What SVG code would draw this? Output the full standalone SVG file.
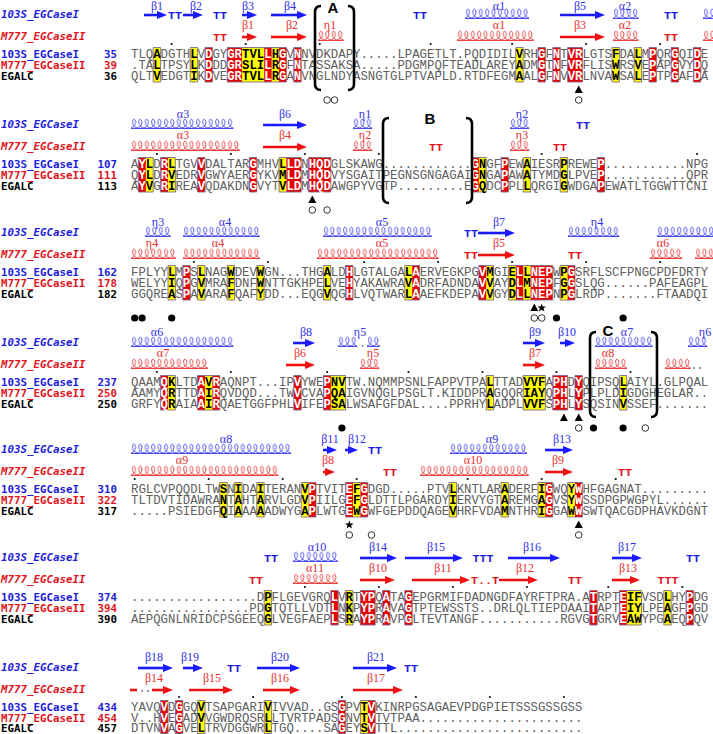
<svg xmlns="http://www.w3.org/2000/svg" xmlns:xlink="http://www.w3.org/1999/xlink" width="713" height="734" viewBox="0 0 713 734">
<style>
.nm{font-family:"DejaVu Sans Mono",monospace;font-size:10.8px;font-weight:bold}
.hd{font-family:"DejaVu Sans Mono",monospace;font-size:10.8px;font-weight:bold;font-style:italic}
.num{text-anchor:end}
.bl{fill:#1c1cdc}.rdt{fill:#e0141c}.bk{fill:#000}
.sq{font-family:"Liberation Mono",monospace;font-size:12.33px;fill:#606060}
.w{fill:#fff;font-weight:bold}.k{fill:#000;font-weight:bold}
.lb{font-family:"Liberation Serif",serif;font-size:12px;text-anchor:middle}
.lbb{fill:#3030e8}.lbr{fill:#e83030}
.tt{font-family:"Liberation Mono",monospace;font-size:11.7px;font-weight:bold;text-anchor:middle}
.ab{stroke:#1a1aff;stroke-width:2.6;fill:none;marker-end:url(#mb)}
.ar{stroke:#ee1111;stroke-width:2.6;fill:none;marker-end:url(#mr)}
.hb{fill:url(#hb)}.hr{fill:url(#hr)}
.y{fill:#ffff00}.rd{fill:#e60000}
.f{fill:none;stroke:#7e6a90;stroke-width:0.9;vector-effect:non-scaling-stroke}
.dt{stroke:#111;stroke-width:2.2;stroke-linecap:round;fill:none}
.br{fill:none;stroke:#000;stroke-width:2.6}
.bt{font-family:"Liberation Sans",sans-serif;font-size:15px;font-weight:bold;text-anchor:middle}
</style>
<defs>
<marker id="mb" markerUnits="userSpaceOnUse" markerWidth="10" markerHeight="8" refX="5" refY="4" orient="auto" viewBox="0 0 10 8"><path d="M0,0L10,4L0,8Z" fill="#1a1aff"/></marker>
<marker id="mr" markerUnits="userSpaceOnUse" markerWidth="10" markerHeight="8" refX="5" refY="4" orient="auto" viewBox="0 0 10 8"><path d="M0,0L10,4L0,8Z" fill="#ee1111"/></marker>
<pattern id="hb" width="6.4" height="11" patternUnits="userSpaceOnUse"><path d="M0,10C2.2,9.6 4.5,7.6 4.5,4.4C4.5,1.9 3.5,1.2 2.9,1.2C2.2,1.2 1.4,1.9 1.5,4.4C1.7,7.6 4,9.6 6.4,10M0,10.5H6.4" fill="none" stroke="#3636f0" stroke-width="0.85"/></pattern>
<pattern id="hr" width="6.4" height="11" patternUnits="userSpaceOnUse"><path d="M0,10C2.2,9.6 4.5,7.6 4.5,4.4C4.5,1.9 3.5,1.2 2.9,1.2C2.2,1.2 1.4,1.9 1.5,4.4C1.7,7.6 4,9.6 6.4,10M0,10.5H6.4" fill="none" stroke="#ea2a2a" stroke-width="0.85"/></pattern>
<path id="tri" d="M0,-4.5L4,3L-4,3Z"/>
<circle id="oc" r="3.3" fill="none" stroke="#333" stroke-width="1"/>
<circle id="fc" r="3.6"/>
<path id="st" d="M0,-4.5L1.1,-1.5L4.3,-1.4L1.8,0.6L2.7,3.6L0,1.8L-2.7,3.6L-1.8,0.6L-4.3,-1.4L-1.1,-1.5Z"/>
</defs>
<rect width="713" height="734" fill="#fff"/>

<!-- ================= BLOCK 1 (R=54) ================= -->
<g id="block1">
<g transform="translate(131,47.5) scale(7.4,1)">
<rect class="y" x="3" width="1" height="34.5"/><rect class="y" x="8" width="1" height="34.5"/><rect class="y" x="15" width="3" height="34.5"/><rect class="y" x="19" width="1" height="34.5"/><rect class="y" x="52" width="1" height="34.5"/><rect class="y" x="65" width="1" height="34.5"/><rect class="y" x="68" width="1" height="34.5"/>
<rect class="rd" x="10" width="1" height="34.5"/><rect class="rd" x="13" width="2" height="34.5"/><rect class="rd" x="18" width="1" height="34.5"/><rect class="rd" x="20" width="1" height="34.5"/><rect class="rd" x="22" width="1" height="34.5"/><rect class="rd" x="55" width="1" height="34.5"/><rect class="rd" x="57" width="1" height="34.5"/><rect class="rd" x="59" width="2" height="34.5"/><rect class="rd" x="70" width="1" height="34.5"/><rect class="rd" x="73" width="1" height="34.5"/><rect class="rd" x="76" width="1" height="34.5"/>
<rect class="f" x="3" width="1" height="34.5"/><rect class="f" x="8" width="1" height="34.5"/><rect class="f" x="10" width="1" height="34.5"/><rect class="f" x="13" width="8" height="34.5"/><rect class="f" x="22" width="1" height="34.5"/><rect class="f" x="52" width="1" height="34.5"/><rect class="f" x="55" width="1" height="34.5"/><rect class="f" x="57" width="1" height="34.5"/><rect class="f" x="59" width="2" height="34.5"/><rect class="f" x="65" width="1" height="34.5"/><rect class="f" x="68" width="1" height="34.5"/><rect class="f" x="70" width="1" height="34.5"/><rect class="f" x="73" width="1" height="34.5"/><rect class="f" x="76" width="1" height="34.5"/>
</g>
<text class="hd bl" x="1" y="18">103S_EGCaseI</text>
<text class="hd rdt" x="1" y="40">M777_EGCaseII</text>
<text class="nm bl" x="1" y="58.2">103S_EGCaseI</text><text class="nm bl num" x="117" y="58.2">35</text>
<text class="nm rdt" x="1" y="69">M777_EGCaseII</text><text class="nm rdt num" x="117" y="69">39</text>
<text class="nm bk" x="1" y="79.8">EGALC</text><text class="nm bk num" x="117" y="79.8">36</text>
<text class="sq" x="131" y="58.2">TLQ<tspan class="k">A</tspan>DGTH<tspan class="k">L</tspan>V<tspan class="w">D</tspan>GY<tspan class="w">GR</tspan><tspan class="k">TVL</tspan><tspan class="w">L</tspan><tspan class="k">H</tspan><tspan class="w">G</tspan>V<tspan class="w">N</tspan>NVDKDAPY.....LPAGETLT.PQDIDIL<tspan class="k">V</tspan>RH<tspan class="w">G</tspan>F<tspan class="w">N</tspan>T<tspan class="w">VR</tspan>LGTS<tspan class="k">F</tspan>DA<tspan class="k">L</tspan>M<tspan class="w">P</tspan>QR<tspan class="w">G</tspan>QI<tspan class="w">D</tspan>E</text>
<text class="sq" x="131" y="69">.TA<tspan class="k">L</tspan>TPSY<tspan class="k">L</tspan>K<tspan class="w">D</tspan>DD<tspan class="w">GR</tspan><tspan class="k">SLI</tspan><tspan class="w">L</tspan><tspan class="k">R</tspan><tspan class="w">G</tspan>F<tspan class="w">N</tspan>TASSAKSA.....PDGMPQFTEADLAREY<tspan class="k">A</tspan>DM<tspan class="w">G</tspan>T<tspan class="w">N</tspan>F<tspan class="w">VR</tspan>FLIS<tspan class="k">W</tspan>RS<tspan class="k">V</tspan>E<tspan class="w">P</tspan>AP<tspan class="w">G</tspan>VY<tspan class="w">D</tspan>Q</text>
<text class="sq" x="131" y="79.8">QLT<tspan class="k">V</tspan>EDGT<tspan class="k">I</tspan>K<tspan class="w">D</tspan>VE<tspan class="w">GR</tspan><tspan class="k">TVL</tspan><tspan class="w">L</tspan><tspan class="k">R</tspan><tspan class="w">G</tspan>A<tspan class="w">N</tspan>VNGLNDYASNGTGLPTVAPLD.RTDFEGM<tspan class="k">A</tspan>AL<tspan class="w">G</tspan>F<tspan class="w">N</tspan>V<tspan class="w">VR</tspan>LNVA<tspan class="k">W</tspan>SA<tspan class="k">L</tspan>E<tspan class="w">P</tspan>TP<tspan class="w">G</tspan>AF<tspan class="w">D</tspan>A</text>
<path class="dt" d="M171.7 44h0M245.7 44h0M319.7 44h0M430.7 44h0M512.1 44h0M586.1 44h0M660.1 44h0"/>
<path class="ab" d="M144 15H162"/><text class="lb lbb" x="157" y="10">β1</text>
<text class="tt bl" x="175" y="19">TT</text>
<path class="ab" d="M183 15H198"/><text class="lb lbb" x="196" y="10">β2</text>
<text class="tt bl" x="220" y="19">TT</text>
<path class="ab" d="M242 15H252"/><text class="lb lbb" x="248" y="10">β3</text>
<path class="ab" d="M271 15H302"/><text class="lb lbb" x="290" y="10">β4</text>
<text class="tt bl" x="420" y="19">TT</text>
<rect class="hb" width="64" height="11" transform="translate(465,8)"/><text class="lb lbb" x="499" y="10">α1</text>
<path class="ab" d="M560 15H600"/><text class="lb lbb" x="580" y="10">β5</text>
<rect class="hb" width="25.6" height="11" transform="translate(613,8)"/><text class="lb lbb" x="625" y="10">α2</text>
<text class="tt bl" x="671" y="19">TT</text>
<rect class="hb" width="10" height="11" transform="translate(703,8)"/>
<text class="tt rdt" x="220" y="41">TT</text>
<path class="ar" d="M242 37H252"/><text class="lb lbr" x="248" y="29">β1</text>
<path class="ar" d="M271 37H302"/><text class="lb lbr" x="292" y="29">β2</text>
<rect class="hr" width="25.6" height="11" transform="translate(318,30)"/><text class="lb lbr" x="330" y="29">η1</text>
<rect class="hr" width="76.8" height="11" transform="translate(457,30)"/><text class="lb lbr" x="499" y="29">α1</text>
<path class="ar" d="M560 37H600"/><text class="lb lbr" x="580" y="29">β3</text>
<rect class="hr" width="25.6" height="11" transform="translate(613,30)"/><text class="lb lbr" x="625" y="29">α2</text>
<text class="tt rdt" x="671" y="41">TT</text>
<rect class="hr" width="10" height="11" transform="translate(703,30)"/>
<path class="br" d="M321,6Q315,6 315,12V84Q315,90 321,90"/>
<path class="br" d="M348,6Q354,6 354,12V84Q354,90 348,90"/>
<text class="bt" x="333" y="13">A</text>
<use href="#tri" x="578.7" y="90"/>
<use href="#oc" x="327.1" y="100"/><use href="#oc" x="334.5" y="100"/><use href="#oc" x="578.7" y="100"/>
</g>

<!-- ================= BLOCK 2 (R=164) ================= -->
<g id="block2">
<g transform="translate(131,157.5) scale(7.4,1)">
<rect class="y" x="2" width="1" height="34.5"/><rect class="y" x="5" width="1" height="34.5"/><rect class="y" x="20" width="1" height="34.5"/><rect class="y" x="47" width="1" height="34.5"/><rect class="y" x="53" width="1" height="34.5"/><rect class="y" x="58" width="1" height="34.5"/>
<rect class="rd" x="1" width="1" height="34.5"/><rect class="rd" x="4" width="1" height="34.5"/><rect class="rd" x="9" width="1" height="34.5"/><rect class="rd" x="16" width="1" height="34.5"/><rect class="rd" x="21" width="2" height="34.5"/><rect class="rd" x="24" width="3" height="34.5"/><rect class="rd" x="46" width="1" height="34.5"/><rect class="rd" x="50" width="1" height="34.5"/><rect class="rd" x="63" width="1" height="34.5"/>
<rect class="f" x="1" width="2" height="34.5"/><rect class="f" x="4" width="2" height="34.5"/><rect class="f" x="9" width="1" height="34.5"/><rect class="f" x="16" width="1" height="34.5"/><rect class="f" x="20" width="3" height="34.5"/><rect class="f" x="24" width="3" height="34.5"/><rect class="f" x="46" width="2" height="34.5"/><rect class="f" x="50" width="1" height="34.5"/><rect class="f" x="53" width="1" height="34.5"/><rect class="f" x="58" width="1" height="34.5"/><rect class="f" x="63" width="1" height="34.5"/>
</g>
<text class="hd bl" x="1" y="128">103S_EGCaseI</text>
<text class="hd rdt" x="1" y="150">M777_EGCaseII</text>
<text class="nm bl" x="1" y="168.2">103S_EGCaseI</text><text class="nm bl num" x="117" y="168.2">107</text>
<text class="nm rdt" x="1" y="179">M777_EGCaseII</text><text class="nm rdt num" x="117" y="179">111</text>
<text class="nm bk" x="1" y="189.8">EGALC</text><text class="nm bk num" x="117" y="189.8">113</text>
<text class="sq" x="131" y="168.2">A<tspan class="w">Y</tspan><tspan class="k">L</tspan>D<tspan class="w">R</tspan><tspan class="k">L</tspan>TGV<tspan class="w">V</tspan>DALTAR<tspan class="w">G</tspan>MHV<tspan class="k">L</tspan><tspan class="w">LD</tspan>N<tspan class="w">HQD</tspan>GLSKAWG............<tspan class="w">G</tspan><tspan class="k">N</tspan>GF<tspan class="w">P</tspan>EW<tspan class="k">A</tspan>IESR<tspan class="k">P</tspan>REWE<tspan class="w">P</tspan>...........NPG</text>
<text class="sq" x="131" y="179">Q<tspan class="w">Y</tspan><tspan class="k">L</tspan>D<tspan class="w">R</tspan><tspan class="k">V</tspan>EDR<tspan class="w">V</tspan>GWYAER<tspan class="w">G</tspan>YKV<tspan class="k">M</tspan><tspan class="w">LD</tspan>M<tspan class="w">HQD</tspan>VYSGAITPEGNSGNGAGAI<tspan class="w">G</tspan><tspan class="k">N</tspan>GA<tspan class="w">P</tspan>AW<tspan class="k">A</tspan>TYMD<tspan class="k">G</tspan>LPVE<tspan class="w">P</tspan>...........QPR</text>
<text class="sq" x="131" y="189.8">A<tspan class="w">Y</tspan><tspan class="k">V</tspan>G<tspan class="w">R</tspan><tspan class="k">I</tspan>REA<tspan class="w">V</tspan>QDAKDN<tspan class="w">G</tspan>VYT<tspan class="k">V</tspan><tspan class="w">LD</tspan>M<tspan class="w">HQD</tspan>AWGPYVGTP.........E<tspan class="w">G</tspan><tspan class="k">Q</tspan>DC<tspan class="w">P</tspan>PL<tspan class="k">L</tspan>QRGI<tspan class="k">G</tspan>WDGA<tspan class="w">P</tspan>EWATLTGGWTTCNI</text>
<path class="dt" d="M156.9 154h0M230.9 154h0M304.9 154h0M378.9 154h0M541.7 154h0M697.1 154h0"/>
<rect class="hb" width="102.4" height="11" transform="translate(131,118)"/><text class="lb lbb" x="183" y="118">α3</text>
<path class="ab" d="M263 125H302"/><text class="lb lbb" x="285" y="118">β6</text>
<rect class="hb" width="19.2" height="11" transform="translate(353,118)"/><text class="lb lbb" x="365" y="118">η1</text>
<rect class="hb" width="19.2" height="11" transform="translate(510,118)"/><text class="lb lbb" x="522" y="118">η2</text>
<text class="tt bl" x="583" y="129">TT</text>
<rect class="hr" width="108.8" height="11" transform="translate(131,140)"/><text class="lb lbr" x="183" y="139">α3</text>
<path class="ar" d="M263 147H302"/><text class="lb lbr" x="285" y="139">β4</text>
<rect class="hr" width="19.2" height="11" transform="translate(353,140)"/><text class="lb lbr" x="365" y="139">η2</text>
<text class="tt rdt" x="436" y="151">TT</text>
<rect class="hr" width="19.2" height="11" transform="translate(510,140)"/><text class="lb lbr" x="522" y="139">η3</text>
<text class="tt rdt" x="560" y="151">TT</text>
<path class="br" d="M389,118Q383,118 383,124V197Q383,203 389,203"/>
<path class="br" d="M466,118Q472,118 472,124V197Q472,203 466,203"/>
<text class="bt" x="430" y="124">B</text>
<use href="#tri" x="312.3" y="200"/>
<use href="#oc" x="312.3" y="210"/><use href="#oc" x="327.1" y="210"/>
</g>

<!-- ================= BLOCK 3 (R=272) ================= -->
<g id="block3">
<g transform="translate(131,265.5) scale(7.4,1)">
<rect class="y" x="5" width="1" height="34.5"/><rect class="y" x="9" width="1" height="34.5"/><rect class="y" x="13" width="1" height="34.5"/><rect class="y" x="17" width="1" height="34.5"/><rect class="y" x="26" width="1" height="34.5"/><rect class="y" x="37" width="1" height="34.5"/><rect class="y" x="48" width="1" height="34.5"/><rect class="y" x="51" width="1" height="34.5"/><rect class="y" x="53" width="1" height="34.5"/><rect class="y" x="58" width="1" height="34.5"/>
<rect class="rd" x="7" width="1" height="34.5"/><rect class="rd" x="29" width="1" height="34.5"/><rect class="rd" x="38" width="1" height="34.5"/><rect class="rd" x="47" width="1" height="34.5"/><rect class="rd" x="52" width="1" height="34.5"/><rect class="rd" x="54" width="3" height="34.5"/><rect class="rd" x="59" width="1" height="34.5"/>
<rect class="f" x="5" width="1" height="34.5"/><rect class="f" x="7" width="1" height="34.5"/><rect class="f" x="9" width="1" height="34.5"/><rect class="f" x="13" width="1" height="34.5"/><rect class="f" x="17" width="1" height="34.5"/><rect class="f" x="26" width="1" height="34.5"/><rect class="f" x="29" width="1" height="34.5"/><rect class="f" x="37" width="2" height="34.5"/><rect class="f" x="47" width="2" height="34.5"/><rect class="f" x="51" width="6" height="34.5"/><rect class="f" x="58" width="2" height="34.5"/>
</g>
<text class="hd bl" x="1" y="236">103S_EGCaseI</text>
<text class="hd rdt" x="1" y="258">M777_EGCaseII</text>
<text class="nm bl" x="1" y="276.2">103S_EGCaseI</text><text class="nm bl num" x="117" y="276.2">162</text>
<text class="nm rdt" x="1" y="287">M777_EGCaseII</text><text class="nm rdt num" x="117" y="287">178</text>
<text class="nm bk" x="1" y="297.8">EGALC</text><text class="nm bk num" x="117" y="297.8">182</text>
<text class="sq" x="131" y="276.2">FPLYY<tspan class="k">L</tspan>M<tspan class="w">P</tspan>S<tspan class="k">L</tspan>NAG<tspan class="k">W</tspan>DEV<tspan class="k">W</tspan>GN...THG<tspan class="k">A</tspan>LD<tspan class="w">H</tspan>LGTALGA<tspan class="k">L</tspan><tspan class="w">A</tspan>ERVEGKPG<tspan class="w">V</tspan><tspan class="k">M</tspan>GI<tspan class="k">E</tspan><tspan class="w">L</tspan><tspan class="k">L</tspan><tspan class="w">NEP</tspan>W<tspan class="k">P</tspan><tspan class="w">G</tspan>SRFLSCFPNGCPDFDRTY</text>
<text class="sq" x="131" y="287">WELYY<tspan class="k">I</tspan>Q<tspan class="w">P</tspan>G<tspan class="k">V</tspan>MRA<tspan class="k">F</tspan>DNF<tspan class="k">W</tspan>NTTGKHPE<tspan class="k">L</tspan>VE<tspan class="w">H</tspan>YAKAWRA<tspan class="k">V</tspan><tspan class="w">A</tspan>DRFADNDA<tspan class="w">V</tspan><tspan class="k">V</tspan>AY<tspan class="k">D</tspan><tspan class="w">L</tspan><tspan class="k">M</tspan><tspan class="w">NEP</tspan>F<tspan class="k">G</tspan><tspan class="w">G</tspan>SLQG......PAFEAGPL</text>
<text class="sq" x="131" y="297.8">GGQRE<tspan class="k">A</tspan>S<tspan class="w">P</tspan>A<tspan class="k">V</tspan>ARA<tspan class="k">F</tspan>QAF<tspan class="k">Y</tspan>DD...EQG<tspan class="k">V</tspan>QG<tspan class="w">H</tspan>LVQTWAR<tspan class="k">L</tspan><tspan class="w">A</tspan>AEFKDEPA<tspan class="w">V</tspan><tspan class="k">V</tspan>GY<tspan class="k">D</tspan><tspan class="w">L</tspan><tspan class="k">L</tspan><tspan class="w">NEP</tspan>N<tspan class="k">P</tspan><tspan class="w">G</tspan>LRDP.......FTAADQI</text>
<path class="dt" d="M193.9 262h0M267.9 262h0M364.1 262h0M438.1 262h0M512.1 262h0M586.1 262h0M660.1 262h0"/>
<rect class="hb" width="25.6" height="11" transform="translate(145,226)"/><text class="lb lbb" x="158" y="226">η3</text>
<rect class="hb" width="76.8" height="11" transform="translate(183,226)"/><text class="lb lbb" x="225" y="226">α4</text>
<rect class="hb" width="108.8" height="11" transform="translate(323,226)"/><text class="lb lbb" x="382" y="226">α5</text>
<text class="tt bl" x="471" y="237">TT</text>
<path class="ab" d="M478 233H510"/><text class="lb lbb" x="499" y="226">β7</text>
<rect class="hb" width="51.2" height="11" transform="translate(568,226)"/><text class="lb lbb" x="597" y="226">η4</text>
<rect class="hb" width="56" height="11" transform="translate(657,226)"/>
<rect class="hr" width="44.8" height="11" transform="translate(131,248)"/><text class="lb lbr" x="152" y="247">η4</text>
<rect class="hr" width="76.8" height="11" transform="translate(183,248)"/><text class="lb lbr" x="218" y="247">α4</text>
<rect class="hr" width="121.6" height="11" transform="translate(317,248)"/><text class="lb lbr" x="382" y="247">α5</text>
<text class="tt rdt" x="471" y="259">TT</text>
<path class="ar" d="M478 255H510"/><text class="lb lbr" x="499" y="247">β5</text>
<text class="tt rdt" x="575" y="259">TT</text>
<rect class="hr" width="32" height="11" transform="translate(650,248)"/><text class="lb lbr" x="663" y="247">α6</text>
<rect class="hr" width="18" height="11" transform="translate(695,248)"/>
<use href="#tri" x="534.3" y="308"/><use href="#st" x="541.7" y="308"/>
<use href="#oc" x="534.3" y="318"/><use href="#oc" x="541.7" y="318"/>
<use href="#fc" x="134.7" y="318"/><use href="#fc" x="142.1" y="318"/><use href="#fc" x="171.7" y="318"/><use href="#fc" x="556.5" y="318"/><use href="#fc" x="623.1" y="318"/>
</g>

<!-- ================= BLOCK 4 (R=382) ================= -->
<g id="block4">
<g transform="translate(131,375.5) scale(7.4,1)">
<rect class="y" x="5" width="1" height="34.5"/><rect class="y" x="10" width="1" height="34.5"/><rect class="y" x="27" width="2" height="34.5"/><rect class="y" x="48" width="1" height="34.5"/><rect class="y" x="53" width="3" height="34.5"/><rect class="y" x="66" width="1" height="34.5"/>
<rect class="rd" x="4" width="1" height="34.5"/><rect class="rd" x="9" width="1" height="34.5"/><rect class="rd" x="11" width="1" height="34.5"/><rect class="rd" x="22" width="1" height="34.5"/><rect class="rd" x="26" width="1" height="34.5"/><rect class="rd" x="57" width="2" height="34.5"/><rect class="rd" x="60" width="1" height="34.5"/>
<rect class="f" x="4" width="2" height="34.5"/><rect class="f" x="9" width="3" height="34.5"/><rect class="f" x="22" width="1" height="34.5"/><rect class="f" x="26" width="3" height="34.5"/><rect class="f" x="48" width="1" height="34.5"/><rect class="f" x="53" width="3" height="34.5"/><rect class="f" x="57" width="2" height="34.5"/><rect class="f" x="60" width="1" height="34.5"/><rect class="f" x="66" width="1" height="34.5"/>
</g>
<text class="hd bl" x="1" y="346">103S_EGCaseI</text>
<text class="hd rdt" x="1" y="368">M777_EGCaseII</text>
<text class="nm bl" x="1" y="386.2">103S_EGCaseI</text><text class="nm bl num" x="117" y="386.2">237</text>
<text class="nm rdt" x="1" y="397">M777_EGCaseII</text><text class="nm rdt num" x="117" y="397">250</text>
<text class="nm bk" x="1" y="407.8">EGALC</text><text class="nm bk num" x="117" y="407.8">250</text>
<text class="sq" x="131" y="386.2">QAAM<tspan class="w">Q</tspan><tspan class="k">K</tspan>LTD<tspan class="w">A</tspan><tspan class="k">V</tspan><tspan class="w">R</tspan>AQNPT...IP<tspan class="w">V</tspan>YWE<tspan class="w">P</tspan><tspan class="k">NV</tspan>TW.NQMMPSNLFAPPVTPA<tspan class="k">L</tspan>TTAD<tspan class="k">VVF</tspan>A<tspan class="w">PH</tspan>D<tspan class="w">Y</tspan>QIPSQ<tspan class="k">L</tspan>AIYL.GLPQAL</text>
<text class="sq" x="131" y="397">AAMY<tspan class="w">Q</tspan><tspan class="k">R</tspan>TTD<tspan class="w">A</tspan><tspan class="k">I</tspan><tspan class="w">R</tspan>QVDQD...TW<tspan class="w">V</tspan>CVA<tspan class="w">P</tspan><tspan class="k">QA</tspan>IGVNQGLPSGLT.KIDDPR<tspan class="k">A</tspan>GQQR<tspan class="k">IAY</tspan>Q<tspan class="w">PH</tspan>L<tspan class="w">Y</tspan>PLPLD<tspan class="k">I</tspan>GDGHEGLAR..</text>
<text class="sq" x="131" y="407.8">GRFY<tspan class="w">Q</tspan><tspan class="k">R</tspan>AIA<tspan class="w">A</tspan><tspan class="k">I</tspan><tspan class="w">R</tspan>QAETGGFPHL<tspan class="w">V</tspan>IFE<tspan class="w">P</tspan><tspan class="k">SA</tspan>LWSAFGFDAL....PPRHY<tspan class="k">L</tspan>ADPL<tspan class="k">VVF</tspan>S<tspan class="w">PH</tspan>L<tspan class="w">Y</tspan>SQSIN<tspan class="k">V</tspan>SSEF.......</text>
<path class="dt" d="M156.9 372h0M230.9 372h0M327.1 372h0M408.5 372h0M482.5 372h0M556.5 372h0M630.5 372h0"/>
<rect class="hb" width="102.4" height="11" transform="translate(131,336)"/><text class="lb lbb" x="157" y="336">α6</text>
<path class="ab" d="M293 343H310"/><text class="lb lbb" x="306" y="336">β8</text>
<rect class="hb" width="19.2" height="11" transform="translate(338,336)"/><path class="dt" d="M362.5 346h0" style="stroke:#3636f0;stroke-width:1.6"/><rect class="hb" width="12.8" height="11" transform="translate(367,336)"/><text class="lb lbb" x="360" y="336">η5</text>
<path class="ab" d="M523 343H540"/><text class="lb lbb" x="535" y="336">β9</text>
<path class="ab" d="M560 343H570"/><text class="lb lbb" x="567" y="336">β10</text>
<rect class="hb" width="57.6" height="11" transform="translate(595,336)"/><text class="lb lbb" x="627" y="336">α7</text>
<rect class="hb" width="19.2" height="11" transform="translate(688,336)"/><text class="lb lbb" x="705" y="336">η6</text>
<rect class="hr" width="76.8" height="11" transform="translate(131,358)"/><text class="lb lbr" x="163" y="357">α7</text>
<path class="ar" d="M286 365H310"/><text class="lb lbr" x="300" y="357">β6</text>
<rect class="hr" width="19.2" height="11" transform="translate(360,358)"/><text class="lb lbr" x="373" y="357">η5</text>
<path class="ar" d="M523 365H540"/><text class="lb lbr" x="535" y="357">β7</text>
<rect class="hr" width="32" height="11" transform="translate(595,358)"/><text class="lb lbr" x="608" y="357">α8</text>
<rect class="hr" width="25.6" height="11" transform="translate(665,358)"/><path class="dt" d="M694 368h0M700 368h0" style="stroke-width:1.6"/>
<path class="br" d="M596,332Q590,332 590,338V411Q590,417 596,417"/>
<path class="br" d="M651,332Q657,332 657,338V411Q657,417 651,417"/>
<text class="bt" x="608" y="336">C</text>
<use href="#tri" x="563.9" y="418"/><use href="#tri" x="578.7" y="418"/>
<use href="#oc" x="578.7" y="428"/><use href="#oc" x="645.3" y="428"/>
<use href="#fc" x="593.5" y="428"/><use href="#fc" x="623.1" y="428"/><use href="#fc" x="341.9" y="428"/>
</g>

<!-- ================= BLOCK 5 (R=489) ================= -->
<g id="block5">
<g transform="translate(131,482.5) scale(7.4,1)">
<rect class="y" x="12" width="1" height="34.5"/><rect class="y" x="14" width="1" height="34.5"/><rect class="y" x="17" width="1" height="34.5"/><rect class="y" x="23" width="1" height="34.5"/><rect class="y" x="30" width="1" height="34.5"/><rect class="y" x="43" width="1" height="34.5"/><rect class="y" x="50" width="1" height="34.5"/><rect class="y" x="55" width="1" height="34.5"/><rect class="y" x="59" width="1" height="34.5"/>
<rect class="rd" x="24" width="1" height="34.5"/><rect class="rd" x="29" width="1" height="34.5"/><rect class="rd" x="31" width="1" height="34.5"/><rect class="rd" x="56" width="1" height="34.5"/><rect class="rd" x="60" width="1" height="34.5"/>
<rect class="f" x="12" width="1" height="34.5"/><rect class="f" x="14" width="1" height="34.5"/><rect class="f" x="17" width="1" height="34.5"/><rect class="f" x="23" width="2" height="34.5"/><rect class="f" x="29" width="3" height="34.5"/><rect class="f" x="43" width="1" height="34.5"/><rect class="f" x="50" width="1" height="34.5"/><rect class="f" x="55" width="2" height="34.5"/><rect class="f" x="59" width="2" height="34.5"/>
</g>
<text class="hd bl" x="1" y="453">103S_EGCaseI</text>
<text class="hd rdt" x="1" y="475">M777_EGCaseII</text>
<text class="nm bl" x="1" y="493.2">103S_EGCaseI</text><text class="nm bl num" x="117" y="493.2">310</text>
<text class="nm rdt" x="1" y="504">M777_EGCaseII</text><text class="nm rdt num" x="117" y="504">322</text>
<text class="nm bk" x="1" y="514.8">EGALC</text><text class="nm bk num" x="117" y="514.8">317</text>
<text class="sq" x="131" y="493.2">RGLCVPQQDLTW<tspan class="k">S</tspan>N<tspan class="k">I</tspan>DA<tspan class="k">I</tspan>TERAN<tspan class="k">V</tspan><tspan class="w">P</tspan>TVIT<tspan class="w">E</tspan><tspan class="k">F</tspan><tspan class="w">G</tspan>DGD.....PTV<tspan class="k">L</tspan>KNTLAR<tspan class="k">A</tspan>DERF<tspan class="k">I</tspan><tspan class="w">G</tspan>WQ<tspan class="k">Y</tspan><tspan class="w">W</tspan>HFGAGNAT.........</text>
<text class="sq" x="131" y="504">TLTDVTIDAWRA<tspan class="k">N</tspan>T<tspan class="k">A</tspan>HT<tspan class="k">A</tspan>RVLGD<tspan class="k">V</tspan><tspan class="w">P</tspan>IILG<tspan class="w">E</tspan><tspan class="k">F</tspan><tspan class="w">G</tspan>LDTTLPGARDY<tspan class="k">I</tspan>ERVYGT<tspan class="k">A</tspan>REMG<tspan class="k">A</tspan><tspan class="w">G</tspan>VS<tspan class="k">Y</tspan><tspan class="w">W</tspan>SSDPGPWGPYL......</text>
<text class="sq" x="131" y="514.8">.....PSIEDGF<tspan class="k">Q</tspan>I<tspan class="k">A</tspan>AA<tspan class="k">A</tspan>ADWYG<tspan class="k">A</tspan><tspan class="w">P</tspan>LWTG<tspan class="w">E</tspan><tspan class="k">W</tspan><tspan class="w">G</tspan>WFGEPDDQAGE<tspan class="k">V</tspan>HRFVDA<tspan class="k">M</tspan>NTHR<tspan class="k">I</tspan><tspan class="w">G</tspan>GA<tspan class="k">W</tspan><tspan class="w">W</tspan>SWTQACGDPHAVKDGNT</text>
<path class="dt" d="M134.7 479h0M208.7 479h0M282.7 479h0M356.7 479h0M467.7 479h0M541.7 479h0M615.7 479h0"/>
<rect class="hb" width="160" height="11" transform="translate(131,443)"/><text class="lb lbb" x="226" y="443">α8</text>
<path class="ab" d="M323 450H332"/><text class="lb lbb" x="330" y="443">β11</text>
<path class="ab" d="M345 450H353"/><text class="lb lbb" x="357" y="443">β12</text>
<text class="tt bl" x="375" y="454">TT</text>
<rect class="hb" width="76.8" height="11" transform="translate(450,443)"/><text class="lb lbb" x="492" y="443">α9</text>
<path class="ab" d="M545 450H568"/><text class="lb lbb" x="562" y="443">β13</text>
<rect class="hr" width="147.2" height="11" transform="translate(131,465)"/><text class="lb lbr" x="182" y="464">α9</text>
<path class="ar" d="M323 472H330"/><text class="lb lbr" x="328" y="464">β8</text>
<text class="tt rdt" x="390" y="476">TT</text>
<rect class="hr" width="108.8" height="11" transform="translate(420,465)"/><text class="lb lbr" x="473" y="464">α10</text>
<path class="ar" d="M545 472H568"/><text class="lb lbr" x="558" y="464">β9</text>
<text class="tt rdt" x="625" y="476">TT</text>
<use href="#st" x="349.3" y="525"/><use href="#tri" x="578.7" y="525"/>
<use href="#oc" x="349.3" y="535"/><use href="#oc" x="371.5" y="535"/><use href="#oc" x="578.7" y="535"/>
</g>

<!-- ================= BLOCK 6 (R=597) ================= -->
<g id="block6">
<g transform="translate(131,590.5) scale(7.4,1)">
<rect class="y" x="18" width="1" height="34.5"/><rect class="y" x="29" width="1" height="34.5"/><rect class="y" x="67" width="2" height="34.5"/><rect class="y" x="72" width="1" height="34.5"/>
<rect class="rd" x="27" width="1" height="34.5"/><rect class="rd" x="31" width="2" height="34.5"/><rect class="rd" x="34" width="1" height="34.5"/><rect class="rd" x="37" width="1" height="34.5"/><rect class="rd" x="62" width="1" height="34.5"/><rect class="rd" x="66" width="1" height="34.5"/><rect class="rd" x="75" width="1" height="34.5"/>
<rect class="f" x="18" width="1" height="34.5"/><rect class="f" x="27" width="1" height="34.5"/><rect class="f" x="29" width="1" height="34.5"/><rect class="f" x="31" width="2" height="34.5"/><rect class="f" x="34" width="1" height="34.5"/><rect class="f" x="37" width="1" height="34.5"/><rect class="f" x="62" width="1" height="34.5"/><rect class="f" x="66" width="3" height="34.5"/><rect class="f" x="72" width="1" height="34.5"/><rect class="f" x="75" width="1" height="34.5"/>
</g>
<text class="hd bl" x="1" y="561">103S_EGCaseI</text>
<text class="hd rdt" x="1" y="583">M777_EGCaseII</text>
<text class="nm bl" x="1" y="601.2">103S_EGCaseI</text><text class="nm bl num" x="117" y="601.2">374</text>
<text class="nm rdt" x="1" y="612">M777_EGCaseII</text><text class="nm rdt num" x="117" y="612">394</text>
<text class="nm bk" x="1" y="622.8">EGALC</text><text class="nm bk num" x="117" y="622.8">390</text>
<text class="sq" x="131" y="601.2">.................D<tspan class="k">P</tspan>FLGEVGRQ<tspan class="w">L</tspan>V<tspan class="k">R</tspan>T<tspan class="w">YP</tspan>Q<tspan class="w">A</tspan>TA<tspan class="w">G</tspan>EPGRMIFDADNGDFAYRFTPRA.A<tspan class="w">T</tspan>RPT<tspan class="w">E</tspan><tspan class="k">IF</tspan>VSD<tspan class="k">L</tspan>HY<tspan class="w">P</tspan>DG</text>
<text class="sq" x="131" y="612">................PD<tspan class="k">G</tspan>TQTLLVDT<tspan class="w">L</tspan>N<tspan class="k">K</tspan>P<tspan class="w">YP</tspan>R<tspan class="w">A</tspan>VA<tspan class="w">G</tspan>TPTEWSSTS..DRLQLTIEPDAAI<tspan class="w">T</tspan>APT<tspan class="w">E</tspan><tspan class="k">IY</tspan>LPE<tspan class="k">A</tspan>GF<tspan class="w">P</tspan>GD</text>
<text class="sq" x="131" y="622.8">AEPQGNLNRIDCPSGEEQ<tspan class="k">G</tspan>LVEGFAEP<tspan class="w">L</tspan>S<tspan class="k">R</tspan>A<tspan class="w">YP</tspan>R<tspan class="w">A</tspan>VP<tspan class="w">G</tspan>LTEVTANGF...........RGVG<tspan class="w">T</tspan>GRV<tspan class="w">E</tspan><tspan class="k">AW</tspan>YPG<tspan class="k">A</tspan>EQ<tspan class="w">P</tspan>QV</text>
<path class="dt" d="M304.9 587h0M378.9 587h0M452.9 587h0M526.9 587h0M608.3 587h0M682.3 587h0"/>
<text class="tt bl" x="271" y="562">TT</text>
<rect class="hb" width="44.8" height="11" transform="translate(293,551)"/><text class="lb lbb" x="317" y="551">α10</text>
<path class="ab" d="M360 558H392"/><text class="lb lbb" x="378" y="551">β14</text>
<path class="ab" d="M405 558H458"/><text class="lb lbb" x="436" y="551">β15</text>
<text class="tt bl" x="483" y="562">TTT</text>
<path class="ab" d="M508 558H555"/><text class="lb lbb" x="532" y="551">β16</text>
<path class="ab" d="M612 558H637"/><text class="lb lbb" x="627" y="551">β17</text>
<text class="tt bl" x="693" y="562">TT</text>
<text class="tt rdt" x="256" y="584">TT</text>
<rect class="hr" width="44.8" height="11" transform="translate(293,573)"/><text class="lb lbr" x="315" y="572">α11</text>
<path class="ar" d="M360 580H390"/><text class="lb lbr" x="378" y="572">β10</text>
<path class="ar" d="M412 580H465"/><text class="lb lbr" x="443" y="572">β11</text>
<text class="tt rdt" x="485" y="584">T..T</text>
<path class="ar" d="M499 580H533"/><text class="lb lbr" x="525" y="572">β12</text>
<text class="tt rdt" x="575" y="584">TT</text>
<path class="ar" d="M612 580H635"/><text class="lb lbr" x="628" y="572">β13</text>
<text class="tt rdt" x="668" y="584">TTT</text>
</g>

<!-- ================= BLOCK 7 (R=707) ================= -->
<g id="block7">
<g transform="translate(131,700.5) scale(7.4,1)">
<rect class="y" x="9" width="1" height="33"/><rect class="y" x="18" width="1" height="33"/><rect class="y" x="31" width="1" height="33"/>
<rect class="rd" x="4" width="1" height="33"/><rect class="rd" x="6" width="1" height="33"/><rect class="rd" x="28" width="1" height="33"/><rect class="rd" x="32" width="1" height="33"/>
<rect class="f" x="4" width="1" height="33"/><rect class="f" x="6" width="1" height="33"/><rect class="f" x="9" width="1" height="33"/><rect class="f" x="18" width="1" height="33"/><rect class="f" x="28" width="1" height="33"/><rect class="f" x="31" width="2" height="33"/>
</g>
<text class="hd bl" x="1" y="671">103S_EGCaseI</text>
<text class="hd rdt" x="1" y="693">M777_EGCaseII</text>
<text class="nm bl" x="1" y="711">103S_EGCaseI</text><text class="nm bl num" x="117" y="711">434</text>
<text class="nm rdt" x="1" y="721.6">M777_EGCaseII</text><text class="nm rdt num" x="117" y="721.6">454</text>
<text class="nm bk" x="1" y="732">EGALC</text><text class="nm bk num" x="117" y="732">457</text>
<text class="sq" x="131" y="711">YAVQ<tspan class="w">V</tspan>D<tspan class="w">G</tspan>GQ<tspan class="k">V</tspan>TSAPGARI<tspan class="k">V</tspan>IVVAD..GS<tspan class="w">G</tspan>PV<tspan class="k">T</tspan><tspan class="w">V</tspan>KINRPGSAGAEVPDGPIETSSSGSSGSS</text>
<text class="sq" x="131" y="721.6">V..H<tspan class="w">V</tspan>E<tspan class="w">G</tspan>AD<tspan class="k">V</tspan>VGWDRQSR<tspan class="k">L</tspan>LTVRTPADS<tspan class="w">G</tspan>NV<tspan class="k">T</tspan><tspan class="w">V</tspan>TVTPAA......................</text>
<text class="sq" x="131" y="732">DTVN<tspan class="w">V</tspan>A<tspan class="w">G</tspan>VE<tspan class="k">L</tspan>TRVDGGWR<tspan class="k">L</tspan>TGQ....SA<tspan class="w">G</tspan>EY<tspan class="k">S</tspan><tspan class="w">V</tspan>TTL.........................</text>
<path class="dt" d="M179.1 697h0M253.1 697h0M341.9 697h0M415.9 697h0M489.9 697h0M563.9 697h0"/>
<path class="ab" d="M138 668H168"/><text class="lb lbb" x="154" y="661">β18</text>
<path class="ab" d="M183 668H198"/><text class="lb lbb" x="190" y="661">β19</text>
<text class="tt bl" x="234" y="672">TT</text>
<path class="ab" d="M257 668H295"/><text class="lb lbb" x="280" y="661">β20</text>
<path class="ab" d="M353 668H392"/><text class="lb lbb" x="376" y="661">β21</text>
<text class="tt bl" x="411" y="672">TT</text>
<path d="M130 690H137" stroke="#ee1111" stroke-width="2.6"/>
<path class="dt" d="M142 691h0M148 691h0" style="stroke-width:1.6"/>
<path class="ar" d="M152 690H168"/><text class="lb lbr" x="154" y="682">β14</text>
<path class="ar" d="M189 690H228"/><text class="lb lbr" x="212" y="682">β15</text>
<path class="ar" d="M263 690H295"/><text class="lb lbr" x="280" y="682">β16</text>
<path class="ar" d="M353 690H398"/><text class="lb lbr" x="376" y="682">β17</text>
</g>
</svg>
